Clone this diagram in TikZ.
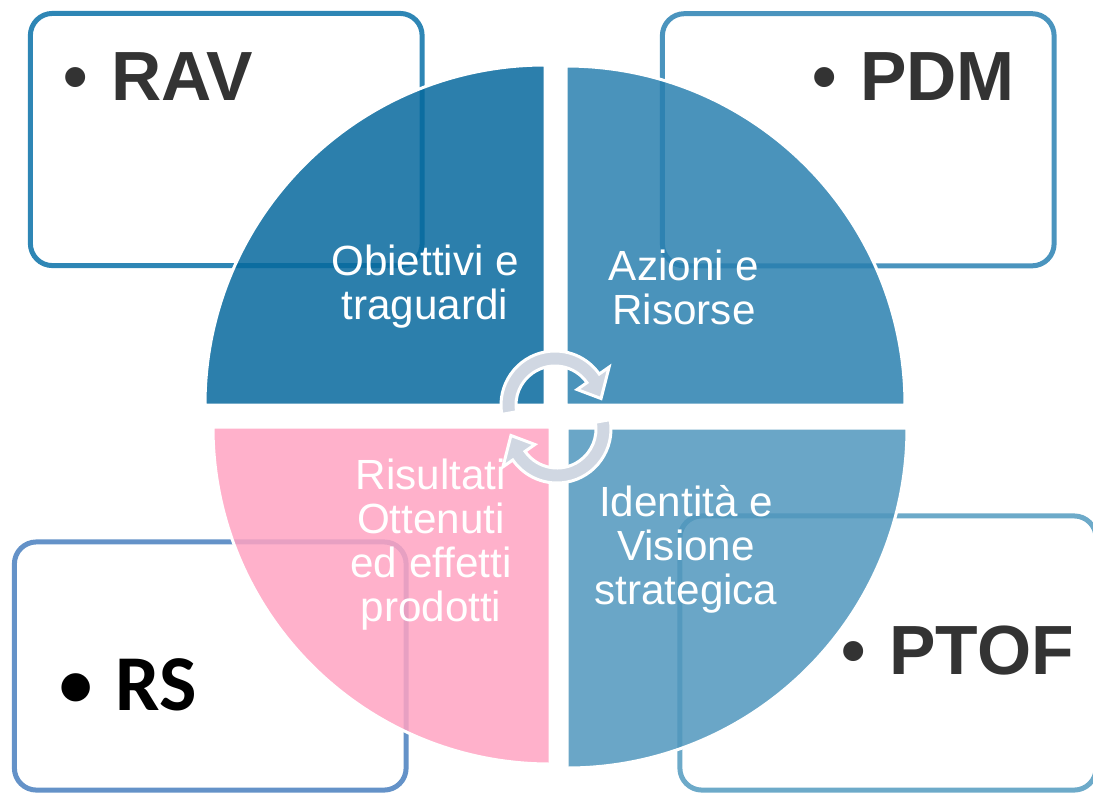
\documentclass[tikz,border=0pt]{standalone}
\usepackage{fontspec}
\setmainfont{Liberation Sans}
\newfontfamily\rsfont{Carlito}
\usepackage{tikz}
\usetikzlibrary{positioning}

\definecolor{ravline}{HTML}{2E86B5}
\definecolor{pdmline}{HTML}{4A94BE}
\definecolor{rsline}{HTML}{6492C8}
\definecolor{ptofline}{HTML}{6DAAC9}
\definecolor{tlfill}{HTML}{07699D}
\definecolor{trfill}{HTML}{2A80AF}
\definecolor{blfill}{HTML}{FFA3C2}
\definecolor{brfill}{HTML}{5097BD}
\definecolor{turngray}{HTML}{D0D7E2}
\definecolor{tagtext}{HTML}{333333}

\begin{document}
\begin{tikzpicture}[
        x=0.01cm, y=-0.01cm,
        frame/.style={draw, line width=0.05cm, rounded corners=0.22cm, inner sep=0pt, minimum width=3.915cm, minimum height=2.52cm},
        quarter/.style={draw=white, line width=0.03cm, fill opacity=0.85},
        qtext/.style={align=center, text=white, inner sep=0pt, font=\fontsize{12}{12.5}\selectfont},
        tag/.style={anchor=west, inner sep=0pt, text=tagtext, font=\fontsize{19.8}{22}\selectfont\bfseries},
        turn/.style={fill=turngray, draw=white, line width=0.03cm}
    ]
        \useasboundingbox (0,0) rectangle (1093,793);
        \clip (0,0) rectangle (1093,793);

        % frames behind the circle
        \node[frame, draw=ravline] (ravbox) at (226.25,139.5) {};
        \node[frame, draw=pdmline] (pdmbox) at (858.25,139.75) {};
        \node[frame, draw=rsline, minimum height=2.48cm] (rsbox) at (210.25,666) {};
        \node[frame, draw=ptofline, minimum width=4.16cm, minimum height=2.74cm] (ptofbox) at (888,653) {};

        % the four quarters
        \path[quarter, fill=tlfill] (545,405) -- (205,405) arc[start angle=180, end angle=270, radius=340] -- cycle;
        \path[quarter, fill=trfill] (566,405) -- (566,66) arc[start angle=270, end angle=360, radius=339] -- cycle;
        \path[quarter, fill=brfill] (567,428) -- (907,428) arc[start angle=0, end angle=90, radius=340] -- cycle;
        \path[quarter, fill=blfill] (550,427) -- (550,764) arc[start angle=90, end angle=180, radius=337] -- cycle;

        \node[qtext] (goals) at (425,287) {Obiettivi e\\traguardi};
        \node[qtext] (actions) at (684,287) {Azioni e\\Risorse};
        \node[qtext] (results) at (431,545) {Risultati\\Ottenuti\\ed effetti\\prodotti};
        \node[qtext] (identity) at (686,549) {Identità e\\Visione\\strategica};

        % turning arrows in the middle
        \foreach \r in {0,180} {
            \path[turn, rotate around={\r:(556,417)}]
                ([shift={(170:54)}]555,405) arc[start angle=170, end angle=325, radius=54]
                -- ([shift={(325:66)}]555,405) -- ([shift={(352:46.5)}]555,405)
                -- ([shift={(325:27)}]555,405) -- ([shift={(325:39)}]555,405)
                arc[start angle=325, end angle=170, radius=39] -- cycle;
        }

        \node[tag] (rav) at (63,77) {\textbullet\hspace{6.6pt}RAV};
        \node[tag] (pdm) at (812,77) {\textbullet\hspace{6.6pt}PDM};
        \node[tag] (ptof) at (841,651) {\textbullet\hspace{6.6pt}PTOF};
        \node[tag, text=black, font=\fontsize{22.5}{26}\rsfont\bfseries] (rs) at (59,685) {\raisebox{1.2pt}{\fontsize{19}{22}\selectfont\textbullet}\hspace{6.5pt}RS};
    \end{tikzpicture}
\end{document}
